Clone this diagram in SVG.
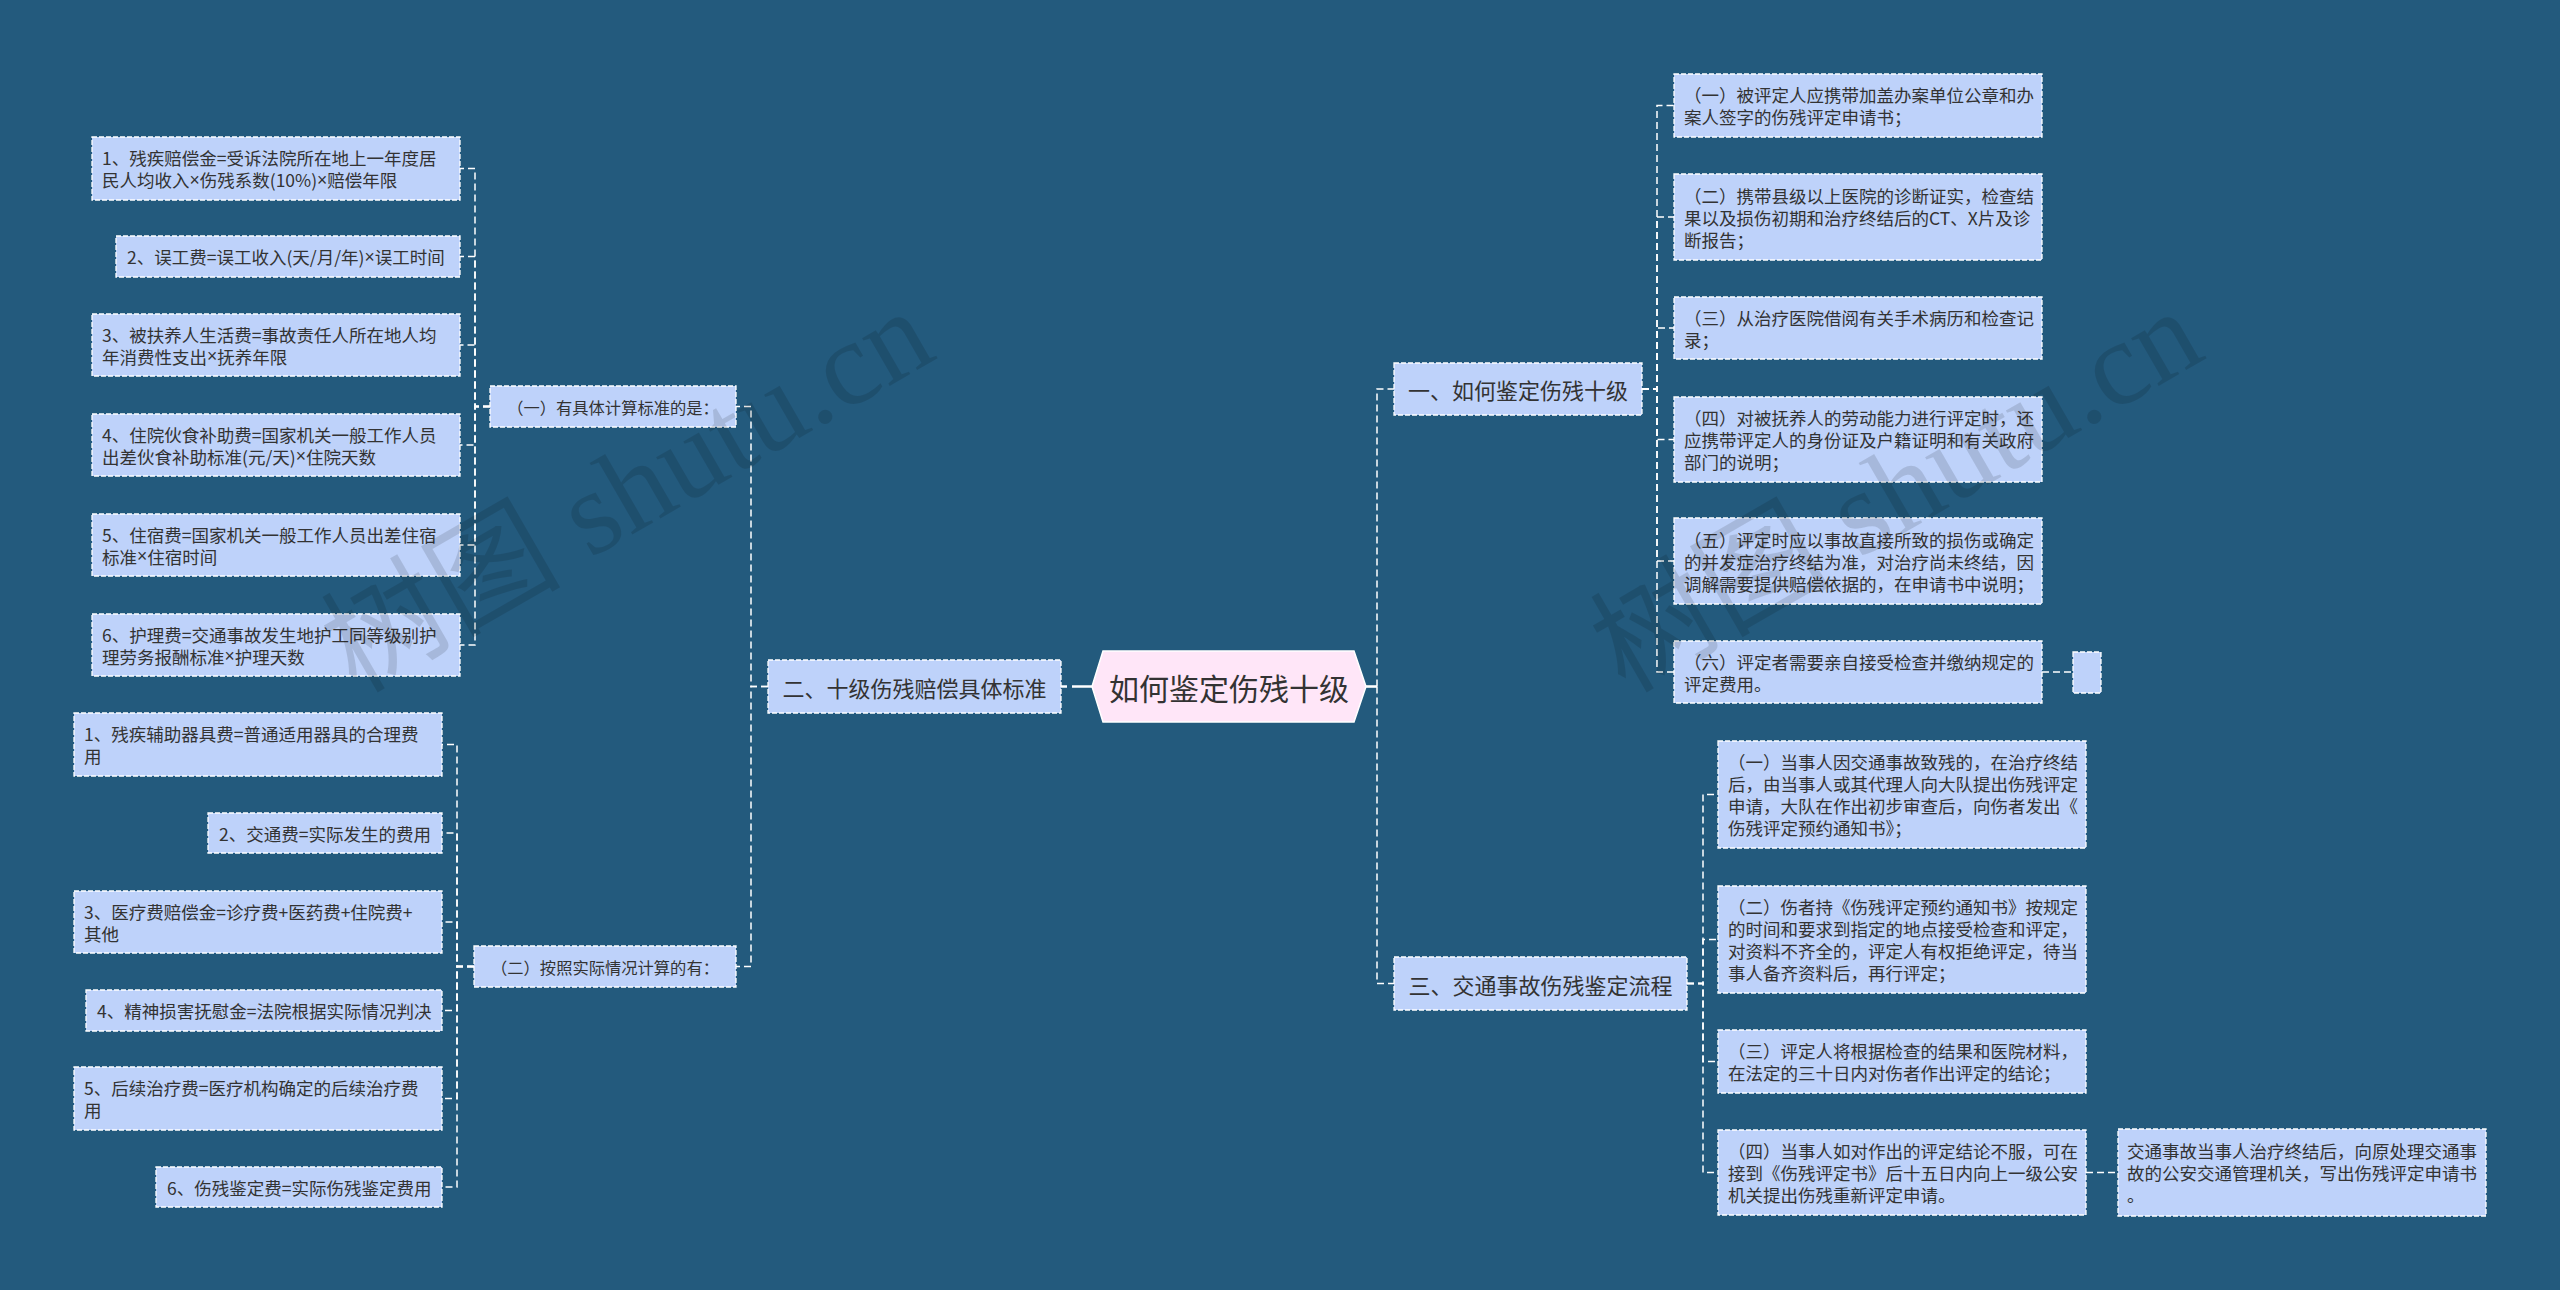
<svg xmlns="http://www.w3.org/2000/svg" width="2560" height="1290" viewBox="0 0 2560 1290">
<style>
.bg{fill:#235A7D}
.box{fill:#BED2FA;stroke:#FFFFFF;stroke-width:1.3;stroke-dasharray:5 2}
.t{font-family:"Noto Sans CJK SC","Noto Sans",sans-serif;fill:#333333;dominant-baseline:central}
.x{font-family:"Liberation Sans","Noto Sans CJK SC",sans-serif}
.leaf{font-size:17.5px}
.mid{font-size:16.3px;text-anchor:middle}
.main{font-size:22px;text-anchor:middle}
.rootT{font-size:30px;text-anchor:middle}
.conn path{fill:none;stroke:#FFFFFF;stroke-width:1.5;stroke-dasharray:7 4}
.conn path.thick{stroke-width:2.6;stroke-dasharray:20 5}
.wm{font-family:"Liberation Serif","Noto Sans CJK SC",serif;font-size:120px;fill:#000000;fill-opacity:0.12}
</style>
<rect class="bg" x="0" y="0" width="2560" height="1290"/>

<g id="connectors" class="conn">
<path class="thick" d="M1092,686.5 H1061"/>
<path class="thick" style="stroke-dasharray:none" d="M1366,686.5 H1377"/>
<path d="M1377,686.5 V389 H1394"/>
<path d="M1377,686.5 V983.5 H1394"/>
<path d="M768,686.5 H751 V406.5 H736"/>
<path d="M768,686.5 H751 V966.5 H736"/>
<path d="M490,406.5 H475 V168.5 H460"/>
<path d="M490,406.5 H475 V256.5 H460"/>
<path d="M490,406.5 H475 V345 H460"/>
<path d="M490,406.5 H475 V445 H460"/>
<path d="M490,406.5 H475 V545 H460"/>
<path d="M490,406.5 H475 V645 H460"/>
<path d="M474,966.5 H457 V744.5 H442"/>
<path d="M474,966.5 H457 V833 H442"/>
<path d="M474,966.5 H457 V922 H442"/>
<path d="M474,966.5 H457 V1010.5 H442"/>
<path d="M474,966.5 H457 V1098.5 H442"/>
<path d="M474,966.5 H457 V1187 H442"/>
<path d="M1642,389 H1657 V105.5 H1674"/>
<path d="M1642,389 H1657 V217 H1674"/>
<path d="M1642,389 H1657 V328 H1674"/>
<path d="M1642,389 H1657 V439.5 H1674"/>
<path d="M1642,389 H1657 V561 H1674"/>
<path d="M1642,389 H1657 V672 H1674"/>
<path d="M1687,983.5 H1703 V794.5 H1718"/>
<path d="M1687,983.5 H1703 V939.5 H1718"/>
<path d="M1687,983.5 H1703 V1061.5 H1718"/>
<path d="M1687,983.5 H1703 V1172.5 H1718"/>
<path d="M2042,672 H2073"/>
<path d="M2086,1172.5 H2118"/>
</g>

<g id="root">
<polygon points="1092,686.5 1103,651 1354,651 1366,686.5 1354,722 1103,722" fill="#FFE6F8" stroke="#FFFFFF" stroke-width="1.5"/>
<text class="t rootT" x="1229" y="686.5">如何鉴定伤残十级</text>
</g>

<g id="n-er">
<rect class="box" x="768" y="660" width="293" height="53"/>
<text class="t main" x="914.5" y="686.5">二、十级伤残赔偿具体标准</text>
</g>
<g id="n-yi">
<rect class="box" x="1394" y="363" width="248" height="52"/>
<text class="t main" x="1518" y="389">一、如何鉴定伤残十级</text>
</g>
<g id="n-san">
<rect class="box" x="1394" y="957" width="293" height="53"/>
<text class="t main" x="1540.5" y="983.5">三、交通事故伤残鉴定流程</text>
</g>

<g id="m-1">
<rect class="box" x="490" y="386" width="246" height="41"/>
<text class="t mid" x="613" y="406.5">（一）有具体计算标准的是：</text>
</g>
<g id="m-2">
<rect class="box" x="474" y="946" width="262" height="41"/>
<text class="t mid" x="605" y="966.5">（二）按照实际情况计算的有：</text>
</g>

<g id="l1-1">
<rect class="box" x="92" y="137" width="368" height="63"/>
<text class="t leaf" x="102" y="157.5">1、残疾赔偿金=受诉法院所在地上一年度居</text>
<text class="t leaf" x="102" y="179.5">民人均收入<tspan class="x">×</tspan>伤残系数(10%)<tspan class="x">×</tspan>赔偿年限</text>
</g>
<g id="l1-2">
<rect class="box" x="116" y="236" width="344" height="41"/>
<text class="t leaf" x="127" y="256.5">2、误工费=误工收入(天/月/年)<tspan class="x">×</tspan>误工时间</text>
</g>
<g id="l1-3">
<rect class="box" x="92" y="314" width="368" height="62"/>
<text class="t leaf" x="102" y="334">3、被扶养人生活费=事故责任人所在地人均</text>
<text class="t leaf" x="102" y="356">年消费性支出<tspan class="x">×</tspan>抚养年限</text>
</g>
<g id="l1-4">
<rect class="box" x="92" y="414" width="368" height="62"/>
<text class="t leaf" x="102" y="434">4、住院伙食补助费=国家机关一般工作人员</text>
<text class="t leaf" x="102" y="456">出差伙食补助标准(元/天)<tspan class="x">×</tspan>住院天数</text>
</g>
<g id="l1-5">
<rect class="box" x="92" y="514" width="368" height="62"/>
<text class="t leaf" x="102" y="534">5、住宿费=国家机关一般工作人员出差住宿</text>
<text class="t leaf" x="102" y="556">标准<tspan class="x">×</tspan>住宿时间</text>
</g>
<g id="l1-6">
<rect class="box" x="92" y="614" width="368" height="62"/>
<text class="t leaf" x="102" y="634">6、护理费=交通事故发生地护工同等级别护</text>
<text class="t leaf" x="102" y="656">理劳务报酬标准<tspan class="x">×</tspan>护理天数</text>
</g>

<g id="l2-1">
<rect class="box" x="74" y="713" width="368" height="63"/>
<text class="t leaf" x="84" y="733.5">1、残疾辅助器具费=普通适用器具的合理费</text>
<text class="t leaf" x="84" y="755.5">用</text>
</g>
<g id="l2-2">
<rect class="box" x="208" y="813" width="234" height="40"/>
<text class="t leaf" x="219" y="833">2、交通费=实际发生的费用</text>
</g>
<g id="l2-3">
<rect class="box" x="74" y="891" width="368" height="62"/>
<text class="t leaf" x="84" y="911">3、医疗费赔偿金=诊疗费+医药费+住院费+</text>
<text class="t leaf" x="84" y="933">其他</text>
</g>
<g id="l2-4">
<rect class="box" x="86" y="990" width="356" height="41"/>
<text class="t leaf" x="97" y="1010.5">4、精神损害抚慰金=法院根据实际情况判决</text>
</g>
<g id="l2-5">
<rect class="box" x="74" y="1067" width="368" height="63"/>
<text class="t leaf" x="84" y="1087.5">5、后续治疗费=医疗机构确定的后续治疗费</text>
<text class="t leaf" x="84" y="1109.5">用</text>
</g>
<g id="l2-6">
<rect class="box" x="156" y="1167" width="286" height="40"/>
<text class="t leaf" x="167" y="1187">6、伤残鉴定费=实际伤残鉴定费用</text>
</g>

<g id="r1-1">
<rect class="box" x="1674" y="74" width="368" height="63"/>
<text class="t leaf" x="1684" y="94.5">（一）被评定人应携带加盖办案单位公章和办</text>
<text class="t leaf" x="1684" y="116.5">案人签字的伤残评定申请书；</text>
</g>
<g id="r1-2">
<rect class="box" x="1674" y="174" width="368" height="86"/>
<text class="t leaf" x="1684" y="195">（二）携带县级以上医院的诊断证实，检查结</text>
<text class="t leaf" x="1684" y="217">果以及损伤初期和治疗终结后的CT、X片及诊</text>
<text class="t leaf" x="1684" y="239">断报告；</text>
</g>
<g id="r1-3">
<rect class="box" x="1674" y="297" width="368" height="62"/>
<text class="t leaf" x="1684" y="317">（三）从治疗医院借阅有关手术病历和检查记</text>
<text class="t leaf" x="1684" y="339">录；</text>
</g>
<g id="r1-4">
<rect class="box" x="1674" y="397" width="368" height="85"/>
<text class="t leaf" x="1684" y="417.5">（四）对被抚养人的劳动能力进行评定时，还</text>
<text class="t leaf" x="1684" y="439.5">应携带评定人的身份证及户籍证明和有关政府</text>
<text class="t leaf" x="1684" y="461.5">部门的说明；</text>
</g>
<g id="r1-5">
<rect class="box" x="1674" y="518" width="368" height="86"/>
<text class="t leaf" x="1684" y="539">（五）评定时应以事故直接所致的损伤或确定</text>
<text class="t leaf" x="1684" y="561">的并发症治疗终结为准，对治疗尚未终结，因</text>
<text class="t leaf" x="1684" y="583">调解需要提供赔偿依据的，在申请书中说明；</text>
</g>
<g id="r1-6">
<rect class="box" x="1674" y="641" width="368" height="62"/>
<text class="t leaf" x="1684" y="661">（六）评定者需要亲自接受检查并缴纳规定的</text>
<text class="t leaf" x="1684" y="683">评定费用。</text>
</g>
<g id="r1-6-child">
<rect class="box" x="2073" y="652" width="28" height="41"/>
</g>

<g id="r3-1">
<rect class="box" x="1718" y="741" width="368" height="107"/>
<text class="t leaf" x="1728" y="761.5">（一）当事人因交通事故致残的，在治疗终结</text>
<text class="t leaf" x="1728" y="783.5">后，由当事人或其代理人向大队提出伤残评定</text>
<text class="t leaf" x="1728" y="805.5">申请，大队在作出初步审查后，向伤者发出《</text>
<text class="t leaf" x="1728" y="827.5">伤残评定预约通知书》；</text>
</g>
<g id="r3-2">
<rect class="box" x="1718" y="886" width="368" height="107"/>
<text class="t leaf" x="1728" y="906.5">（二）伤者持《伤残评定预约通知书》按规定</text>
<text class="t leaf" x="1728" y="928.5">的时间和要求到指定的地点接受检查和评定，</text>
<text class="t leaf" x="1728" y="950.5">对资料不齐全的，评定人有权拒绝评定，待当</text>
<text class="t leaf" x="1728" y="972.5">事人备齐资料后，再行评定；</text>
</g>
<g id="r3-3">
<rect class="box" x="1718" y="1030" width="368" height="63"/>
<text class="t leaf" x="1728" y="1050.5">（三）评定人将根据检查的结果和医院材料，</text>
<text class="t leaf" x="1728" y="1072.5">在法定的三十日内对伤者作出评定的结论；</text>
</g>
<g id="r3-4">
<rect class="box" x="1718" y="1130" width="368" height="85"/>
<text class="t leaf" x="1728" y="1150.5">（四）当事人如对作出的评定结论不服，可在</text>
<text class="t leaf" x="1728" y="1172.5">接到《伤残评定书》后十五日内向上一级公安</text>
<text class="t leaf" x="1728" y="1194.5">机关提出伤残重新评定申请。</text>
</g>
<g id="r3-4-child">
<rect class="box" x="2118" y="1129" width="368" height="87"/>
<text class="t leaf" x="2127" y="1150.5">交通事故当事人治疗终结后，向原处理交通事</text>
<text class="t leaf" x="2127" y="1172.5">故的公安交通管理机关，写出伤残评定申请书</text>
<text class="t leaf" x="2127" y="1194.5">。</text>
</g>

<g id="watermarks">
<text class="wm" x="356" y="694" transform="rotate(-30 356 694)">树图 shutu.cn</text>
<text class="wm" x="1625" y="694" transform="rotate(-30 1625 694)">树图 shutu.cn</text>
</g>
</svg>
